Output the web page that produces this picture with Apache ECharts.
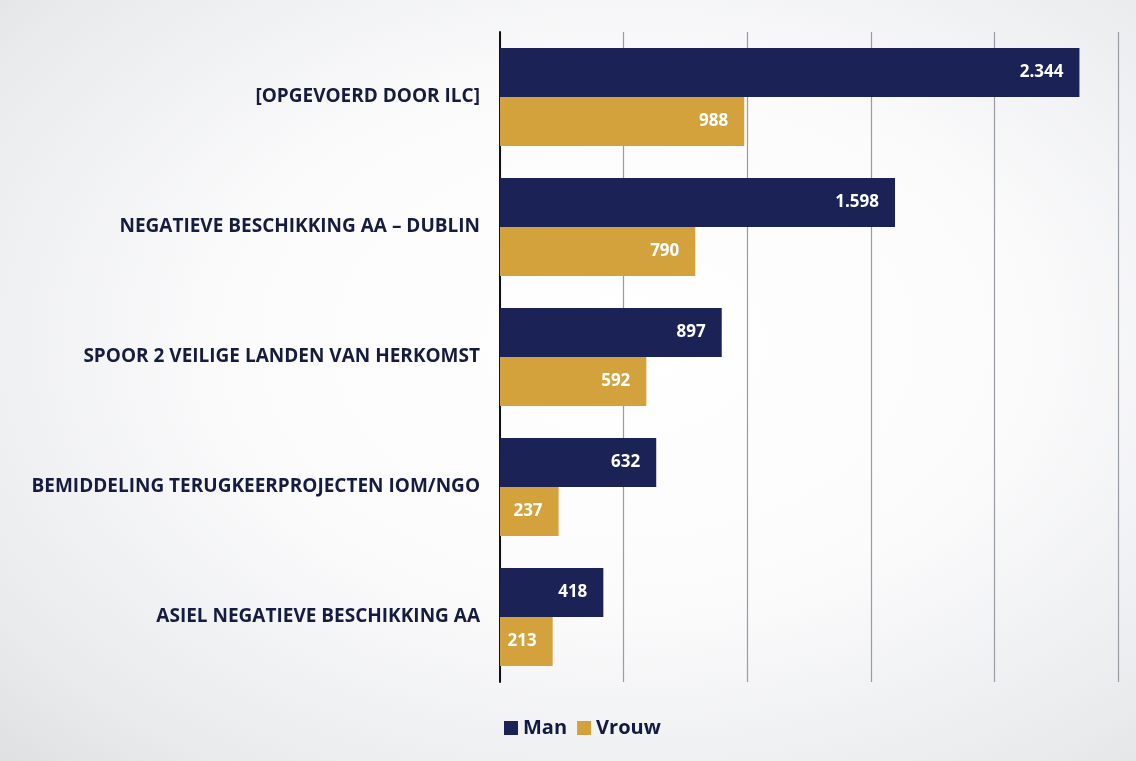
<!DOCTYPE html>
<html>
<head>
<meta charset="utf-8">
<script src="https://cdn.jsdelivr.net/npm/echarts@6/dist/echarts.min.js"></script>
<style>
html,body{margin:0;padding:0;width:1136px;height:761px;overflow:hidden;}
#chart{width:1136px;height:761px;background:radial-gradient(ellipse at 55% 45%, #ffffff 0%, #fbfbfc 45%, #e9eaec 85%, #dfe0e2 100%);}
</style>
</head>
<body>
<div id="chart"></div>
<script>
// Categories listed bottom-to-top (category axis on y runs upward)
const categories = [
  'ASIEL NEGATIEVE BESCHIKKING AA',
  'BEMIDDELING TERUGKEERPROJECTEN IOM/NGO',
  'SPOOR 2 VEILIGE LANDEN VAN HERKOMST',
  'NEGATIEVE BESCHIKKING AA \u2013 DUBLIN',
  '[OPGEVOERD DOOR ILC]'
];
const man = [418, 632, 897, 1598, 2344];
const vrouw = [213, 237, 592, 790, 988];
const seriesNames = ['Man', 'Vrouw'];

const NAVY = '#1b2356';
const GOLD = '#d3a23c';
const FONT = '"Open Sans", "Noto Sans", sans-serif';

function fmt(v) {
  return String(v).replace(/\B(?=(\d{3})+(?!\d))/g, '.');
}

const chart = echarts.init(document.getElementById('chart'));
const valueLabel = {
  show: true,
  position: 'insideRight',
  distance: 16,
  color: '#ffffff',
  fontFamily: FONT,
  fontWeight: 'bold',
  fontSize: 17,
  formatter: p => fmt(p.value)
};
chart.setOption({
  backgroundColor: 'transparent',
  animation: false,
  legend: {
    bottom: 18,
    left: 499,
    itemWidth: 14,
    itemHeight: 14,
    itemGap: 10,
    icon: 'rect',
    textStyle: { color: '#121a3e', fontFamily: FONT, fontWeight: 'bold', fontSize: 20 },
    data: seriesNames
  },
  grid: { left: 500, right: 18, top: 32, bottom: 79, containLabel: false },
  xAxis: {
    type: 'value',
    min: 0,
    max: 2500,
    interval: 500,
    axisLabel: { show: false },
    axisLine: { show: false },
    axisTick: { show: false },
    splitLine: { show: true, lineStyle: { color: '#9a9ca3', width: 1.2 } }
  },
  yAxis: {
    type: 'category',
    data: categories,
    axisLine: { show: true, lineStyle: { color: '#111111', width: 2 } },
    axisTick: { show: false },
    axisLabel: {
      margin: 20,
      color: '#161c40',
      fontFamily: FONT,
      fontWeight: 'bold',
      fontSize: 19
    }
  },
  series: [
    {
      name: seriesNames[0],
      type: 'bar',
      data: man,
      barWidth: 49,
      barGap: '0%',
      itemStyle: { color: NAVY },
      label: valueLabel
    },
    {
      name: seriesNames[1],
      type: 'bar',
      data: vrouw,
      barWidth: 49,
      barGap: '0%',
      itemStyle: { color: GOLD },
      label: valueLabel
    }
  ]
});
</script>
</body>
</html>
